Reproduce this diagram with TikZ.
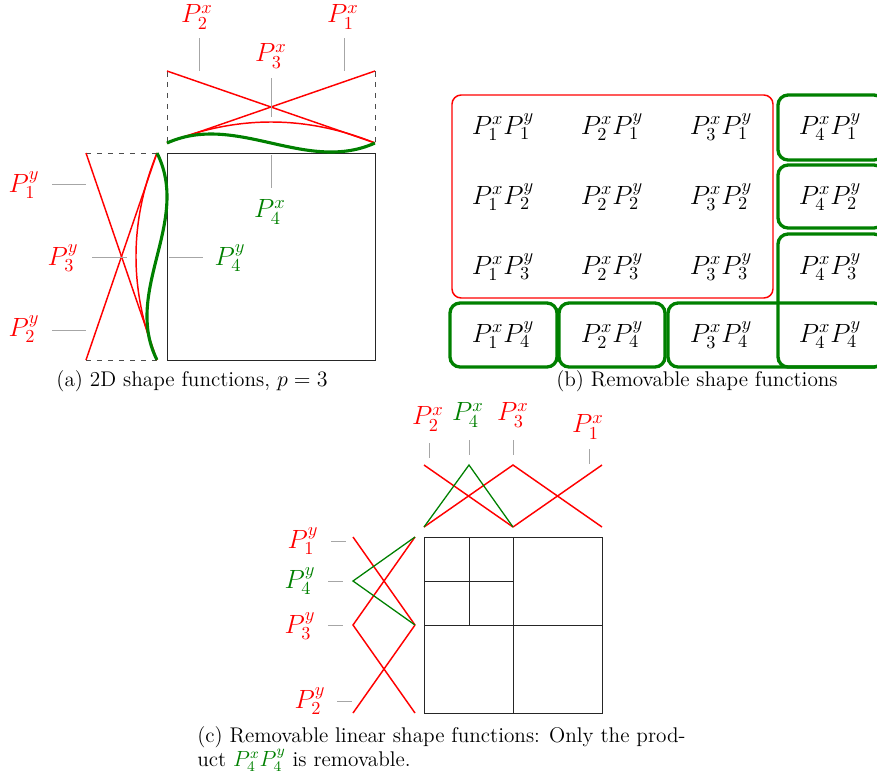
\documentclass[tikz,border=0pt]{standalone}
\usepackage{xcolor}
\definecolor{fgreen}{RGB}{0,128,0}
\begin{document}
\begin{tikzpicture}[x=0.546pt,y=-0.546pt,
  lab/.style={font=\Large, inner sep=0pt},
  rl/.style={red, line width=0.8pt},
  gl/.style={fgreen, line width=1.7pt},
  gthin/.style={fgreen, line width=0.7pt},
  tck/.style={gray!70, line width=0.5pt},
  dsh/.style={dashed, black!70, line width=0.5pt},
  frame/.style={black!85, line width=0.5pt},
  capt/.style={font=\fontsize{11.6}{12}\selectfont, inner sep=0pt},
  rbox/.style={red, line width=0.8pt, rounded corners=5pt},
  gbox/.style={fgreen, line width=1.8pt, rounded corners=5.5pt}]
\useasboundingbox (0,0) rectangle (877,773);
\clip (0,0) rectangle (877,773);

% ================= (a) =================
\draw[frame] (167,153) rectangle (375,360);
% top functions
\coordinate (tA) at (167,71);
\coordinate (tB) at (375,71);
\coordinate (tC) at (167,143);
\coordinate (tD) at (375,143);
\draw[dsh] (tA) -- (tC);
\draw[dsh] (tB) -- (tD);
\draw[rl] (tA) -- (tD);
\draw[rl] (tC) -- (tB);
\draw[rl] plot[domain=0:1, samples=60, smooth, variable=\t] ({167+208*\t},{143-84*\t*(1-\t)});
\draw[gl] plot[domain=0:1, samples=60, smooth, variable=\t] ({167+208*\t},{143-93.5*\t*(1-\t)*(1-2*\t)});
% left functions
\coordinate (lA) at (86,153);
\coordinate (lB) at (86,360);
\coordinate (lC) at (157,153);
\coordinate (lD) at (157,360);
\draw[dsh] (lA) -- (lC);
\draw[dsh] (lB) -- (lD);
\draw[rl] (lA) -- (lD);
\draw[rl] (lB) -- (lC);
\draw[rl] plot[domain=0:1, samples=60, smooth, variable=\t] ({157-84*\t*(1-\t)},{153+207*\t});
\draw[gl] plot[domain=0:1, samples=60, smooth, variable=\t] ({157+104*\t*(1-\t)*(1-2*\t)},{153+207*\t});
% labels
\node[lab, red] (ax2) at (197,17) {$P_2^x$};
\node[lab, red] (ax1) at (343,17) {$P_1^x$};
\node[lab, red] (ax3) at (271,56) {$P_3^x$};
\node[lab, fgreen] (ax4) at (270,212) {$P_4^x$};
\node[lab, red] (ay1) at (24,185) {$P_1^y$};
\node[lab, red] (ay3) at (63,258) {$P_3^y$};
\node[lab, red] (ay2) at (24,329) {$P_2^y$};
\node[lab, fgreen] (ay4) at (230,258) {$P_4^y$};
\draw[tck] (199,38) -- (199,71);
\draw[tck] (344,38) -- (344,71);
\draw[tck] (271,78) -- (271,117);
\draw[tck] (271,155) -- (271,188);
\draw[tck] (52,184) -- (86,184);
\draw[tck] (92,257) -- (127,257);
\draw[tck] (52,330) -- (86,330);
\draw[tck] (169,257) -- (203,257);
\node[capt] (capa) at (192,381) {(a) 2D shape functions, $p=3$};

% ================= (b) =================
\draw[rbox] (452,95) rectangle (773,298);
\draw[gbox] (778,95) rectangle (884,160);
\draw[gbox] (778,165) rectangle (884,228);
\draw[gbox] (778,234) rectangle (884,367);
\draw[gbox] (668,303) rectangle (884,367);
\draw[gbox] (450,303) rectangle (557,367);
\draw[gbox] (559,303) rectangle (665,367);
\foreach \i/\xx in {1/503,2/612,3/721,4/830}{
  \foreach \j/\yy in {1/127,2/197,3/267,4/335}{
    \node[lab] (b\i\j) at (\xx,\yy) {$P_\i^x P_\j^y$};
  }
}
\node[capt] (capb) at (697,381) {(b) Removable shape functions};

% ================= (c) =================
\draw[frame] (424,537) rectangle (602,713);
\draw[frame] (513,537) -- (513,713);
\draw[frame] (424,625) -- (602,625);
\draw[frame] (469,537) -- (469,625);
\draw[frame] (424,581) -- (513,581);
% top hats
\coordinate (c1) at (424,527);
\coordinate (c2) at (469,527);
\coordinate (c3) at (513,527);
\coordinate (c4) at (602,527);
\coordinate (h1) at (424,465);
\coordinate (h2) at (469,465);
\coordinate (h3) at (513,465);
\coordinate (h4) at (602,465);
\draw[rl] (h1) -- (c3);
\draw[rl] (c1) -- (h3) -- (c4);
\draw[rl] (c3) -- (h4);
\draw[gthin] (c1) -- (h2) -- (c3);
% left hats
\coordinate (d1) at (415,537);
\coordinate (d2) at (415,581);
\coordinate (d3) at (415,625);
\coordinate (d4) at (415,713);
\coordinate (k1) at (353,537);
\coordinate (k2) at (353,581);
\coordinate (k3) at (353,625);
\coordinate (k4) at (353,713);
\draw[rl] (k1) -- (d3);
\draw[rl] (d1) -- (k3) -- (d4);
\draw[rl] (d3) -- (k4);
\draw[gthin] (d1) -- (k2) -- (d3);
% labels
\node[lab, red] (cx2) at (428,419) {$P_2^x$};
\node[lab, fgreen] (cx4) at (468,415) {$P_4^x$};
\node[lab, red] (cx3) at (513,415) {$P_3^x$};
\node[lab, red] (cx1) at (588,427) {$P_1^x$};
\node[lab, red] (cy1) at (303,541) {$P_1^y$};
\node[lab, fgreen] (cy4) at (300,581) {$P_4^y$};
\node[lab, red] (cy3) at (300,626) {$P_3^y$};
\node[lab, red] (cy2) at (310,701) {$P_2^y$};
\draw[tck] (429,443) -- (429,458);
\draw[tck] (469,440) -- (469,455);
\draw[tck] (513,440) -- (513,455);
\draw[tck] (589,449) -- (589,464);
\draw[tck] (331,541) -- (346,541);
\draw[tck] (328,581) -- (343,581);
\draw[tck] (328,625) -- (343,625);
\draw[tck] (337,701) -- (352,701);
\node[capt, anchor=north west, align=left] (capc) at (197,726)
  {(c) Removable linear shape functions: Only the prod-\\uct {\color{fgreen}$P_4^x P_4^y$} is removable.};
\end{tikzpicture}
\end{document}
